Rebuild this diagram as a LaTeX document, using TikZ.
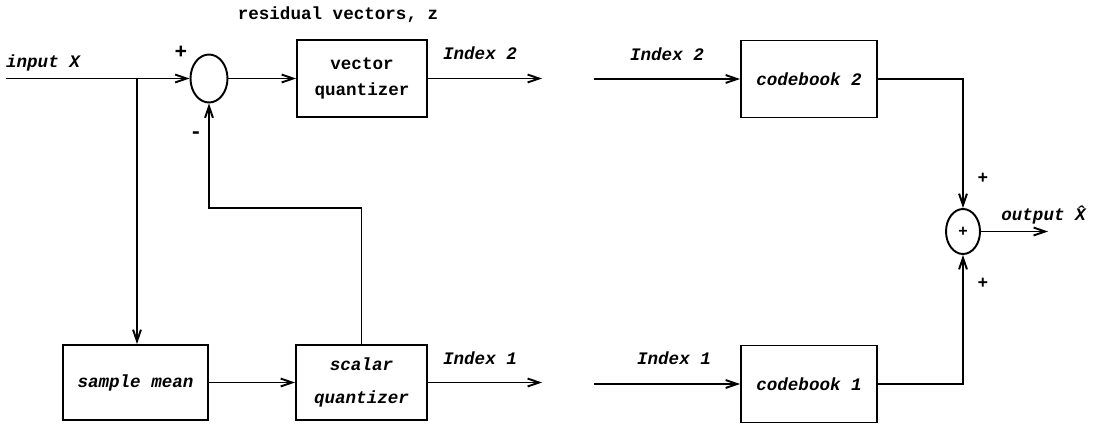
\documentclass[tikz,border=0pt]{standalone}
\usepackage{fontspec}
\setmainfont{Liberation Mono}
\usetikzlibrary{arrows.meta,shapes.geometric}
\tikzset{
    %Define standard arrow tip
    >={Straight Barb[length=6.5pt,width=4.5pt]},
    %Define style for boxes
    block/.style={
           rectangle,
           draw=black, line width=1.1pt,
           minimum width=2.6cm,
           minimum height=1.54cm,
           inner sep=0pt,
           font=\fontsize{10}{15}\selectfont\bfseries\itshape,
           align=center},
    % summing junctions
    sumnode/.style={
           ellipse,
           draw=black, line width=1.1pt,
           inner sep=0pt,
           font=\fontsize{9}{10}\selectfont\bfseries\itshape},
    % plain labels
    lbl/.style={
           inner sep=0pt,
           font=\fontsize{10}{12}\selectfont\bfseries\itshape},
    % Define arrow style
    pil/.style={
           ->,
           line width=1.1pt}
}
\begin{document}
\begin{tikzpicture}
\useasboundingbox (0,0) rectangle (21.86,-8.48);
% coder
\coordinate (in) at (0.12,-1.57);
\coordinate (jn) at (2.74,-1.57);
\node[sumnode, minimum width=0.74cm, minimum height=0.96cm](sum) at (4.18,-1.57){};
\node[block, font=\fontsize{10}{15}\selectfont\bfseries](vq) at (7.24,-1.57){vector\\ quantizer};
\node[block, minimum width=2.9cm, minimum height=1.5cm](smean) at (2.71,-7.65){sample mean};
\node[block, minimum width=2.62cm, minimum height=1.5cm](sq) at (7.23,-7.65){scalar\\[4pt] quantizer};
\coordinate (idx2) at (10.84,-1.57);
\coordinate (idx1) at (10.84,-7.65);
% decoder
\coordinate (rx2) at (11.88,-1.58);
\coordinate (rx1) at (11.88,-7.68);
\node[block, minimum width=2.72cm](cb2) at (16.18,-1.58){codebook 2};
\node[block, minimum width=2.72cm](cb1) at (16.18,-7.68){codebook 1};
\node[sumnode, minimum width=0.68cm, minimum height=0.9cm](add) at (19.26,-4.63){+};
\coordinate (out) at (20.96,-4.63);
% labels
\node[lbl, font=\fontsize{10}{12}\selectfont\bfseries](res) at (6.76,-0.30){residual vectors, z};
\node[lbl](inlbl) at (0.86,-1.26){input X};
\node[lbl, font=\fontsize{12}{12}\selectfont\bfseries](plus) at (3.62,-1.04){+};
\node[lbl, font=\fontsize{12}{12}\selectfont\bfseries](minus) at (3.92,-2.70){-};
\node[lbl](i2a) at (9.6,-1.06){Index 2};
\node[lbl](i2b) at (13.34,-1.08){Index 2};
\node[lbl](i1a) at (9.6,-7.16){Index 1};
\node[lbl](i1b) at (13.48,-7.16){Index 1};
\node[lbl](p2) at (19.66,-3.56){+};
\node[lbl](p1) at (19.66,-5.66){+};
\node[lbl](outlbl) at (20.87,-4.30){output \^{X}};
% connectors
\draw[pil] (in) -- (sum);
\draw[pil] (jn) -- (jn |- smean.north);
\draw[pil] (sum) -- (vq);
\draw[pil] (vq) -- (idx2);
\draw[pil] (smean) -- (sq);
\draw[pil] (sq) -- (idx1);
\draw[pil] (sq.north) -- ++(0,2.72) -| (sum.south);
\draw[pil] (rx2) -- (cb2);
\draw[pil] (rx1) -- (cb1);
\draw[pil] (cb2) -| (add.north);
\draw[pil] (cb1) -| (add.south);
\draw[pil] (add) -- (out);
\end{tikzpicture}
\end{document}
